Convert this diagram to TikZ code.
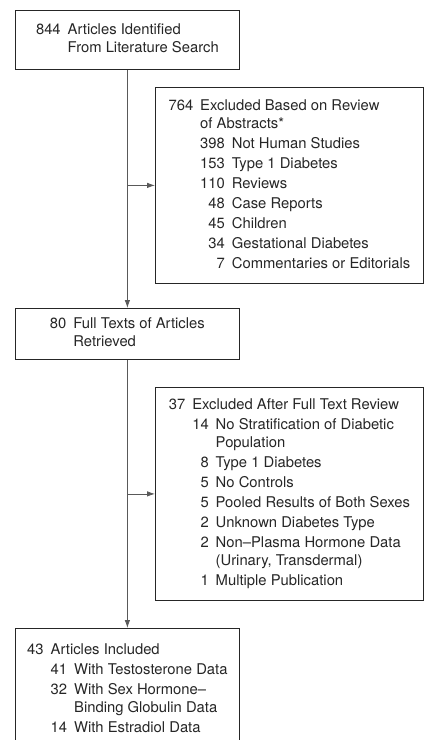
\documentclass[tikz,border=0pt]{standalone}
\usepackage{fontspec}
\setmainfont{TeX Gyre Heros}
\usetikzlibrary{arrows.meta}

%% number column and text column
\newcommand{\countTab}[1]{\begin{tabular}[t]{@{}r@{\hspace{7pt}}l@{}}#1\end{tabular}}

\begin{document}
\begin{tikzpicture}[%%
  x=1pt,y=-1pt,%%
  boxStyle/.style={draw=black!85,line width=0.8pt,anchor=north west,inner sep=0pt,%%
    text=black!85,font=\fontsize{14.8}{18}\selectfont},%%
  arrowStyle/.style={-{Latex[length=8pt,width=5.5pt]},draw=black!65,line width=0.8pt}%%
]
%%
%%
\pgfmathsetmacro{\mainWidth}{224}
\pgfmathsetmacro{\sideWidth}{268}
\pgfmathsetmacro{\mainLeft}{15}
\pgfmathsetmacro{\sideLeft}{155}
%%
\useasboundingbox (0,0) rectangle (425,740);
\clip (0,0) rectangle (425,740);
%%
%% Main column.
\node[boxStyle,minimum width=\mainWidth pt,minimum height=59pt] (search) at (\mainLeft,10)
  {\countTab{844 & Articles Identified\\ & From Literature Search}};
\node[boxStyle,minimum width=\mainWidth pt,minimum height=51pt] (retrieved) at (\mainLeft,308)
  {\countTab{80 & Full Texts of Articles\\ & Retrieved}};
\node[boxStyle,minimum width=\mainWidth pt,minimum height=122pt] (included) at (\mainLeft,628)
  {\countTab{43 & Articles Included\\[2pt]
    & \countTab{41 & With Testosterone Data\\[2pt]
      32 & With Sex Hormone--\\
         & Binding Globulin Data\\[2pt]
      14 & With Estradiol Data}}};
%%
%% Exclusion boxes.
\node[boxStyle,minimum width=\sideWidth pt,minimum height=196pt] (abstractsOut) at (\sideLeft,87)
  {\countTab{764 & Excluded Based on Review\\
    & of Abstracts*\\[2pt]
    & \countTab{398 & Not Human Studies\\[2pt]
      153 & Type 1 Diabetes\\[2pt]
      110 & Reviews\\[2pt]
      48 & Case Reports\\[2pt]
      45 & Children\\[2pt]
      34 & Gestational Diabetes\\[2pt]
      7 & Commentaries or Editorials}}};
\node[boxStyle,minimum width=\sideWidth pt,minimum height=213pt] (fullTextOut) at (\sideLeft,387)
  {\countTab{37 & Excluded After Full Text Review\\[2pt]
    & \countTab{14 & No Stratification of Diabetic\\
         & Population\\[2pt]
      8 & Type 1 Diabetes\\[2pt]
      5 & No Controls\\[2pt]
      5 & Pooled Results of Both Sexes\\[2pt]
      2 & Unknown Diabetes Type\\[2pt]
      2 & Non--Plasma Hormone Data\\
        & (Urinary, Transdermal)\\[2pt]
      1 & Multiple Publication}}};
%%
%% Flow arrows.
\draw[arrowStyle] (search) -- (retrieved);
\draw[arrowStyle] (retrieved) -- (included);
\draw[arrowStyle] (search.south |- abstractsOut.west) -- (abstractsOut.west);
\draw[arrowStyle] (retrieved.south |- fullTextOut.west) -- (fullTextOut.west);
\end{tikzpicture}
\end{document}
